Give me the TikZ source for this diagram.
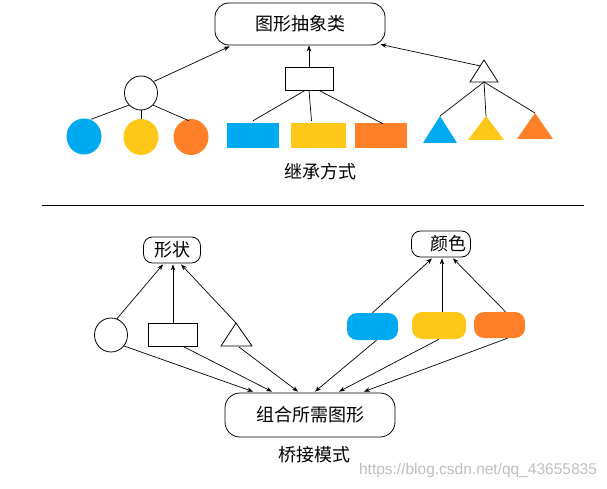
\documentclass[tikz,border=0pt]{standalone}
\usepackage{fontspec}
\setmainfont{Liberation Sans}
\newfontfamily\cjk{Noto Sans CJK SC}
\usetikzlibrary{arrows.meta,calc,shapes.geometric}
\definecolor{cblue}{RGB}{0,170,240}
\definecolor{cyellow}{RGB}{255,200,25}
\definecolor{corange}{RGB}{255,128,40}
\begin{document}
\begin{tikzpicture}[x=1pt,y=-1pt,
  lbl/.style={font=\cjk\fontsize{18}{18}\selectfont, inner sep=0pt},
  rbox/.style={draw, line width=0.8pt, inner sep=0pt, font=\cjk\fontsize{18}{18}\selectfont},
  obj/.style={draw, line width=0.8pt, inner sep=0pt},
  cobj/.style={inner sep=0pt},
  con/.style={line width=0.7pt},
  arr/.style={con, -{Stealth[length=6pt,width=4.5pt]}}]
\useasboundingbox (0,0) rectangle (607,489);
\fill[white] (0,0) rectangle (607,489);

% ---------- top: inheritance ----------
\node[rbox, rounded corners=14pt, minimum width=170pt, minimum height=42pt] (top) at (300,24) {图形抽象类};

\node[obj, ellipse, minimum width=33pt, minimum height=34pt] (oc) at (141,93) {};
\node[obj, rectangle, minimum width=48pt, minimum height=23pt] (orr) at (309,78.5) {};
\coordinate (ta) at (484,60);
\coordinate (tl) at (470,82);
\coordinate (tr) at (498,82);
\coordinate (tb) at (484,82);
\draw[line width=0.8pt] (ta) -- (tl) -- (tr) -- cycle;

\node[cobj, ellipse, fill=cblue, minimum width=35pt, minimum height=36pt] (c1) at (84,136.5) {};
\node[cobj, ellipse, fill=cyellow, minimum width=35pt, minimum height=36pt] (c2) at (141,137) {};
\node[cobj, ellipse, fill=corange, minimum width=35pt, minimum height=36pt] (c3) at (191,137) {};

\node[cobj, rectangle, fill=cblue, minimum width=52pt, minimum height=25pt] (r1) at (253,135.5) {};
\node[cobj, rectangle, fill=cyellow, minimum width=55pt, minimum height=25pt] (r2) at (318.5,135.5) {};
\node[cobj, rectangle, fill=corange, minimum width=52pt, minimum height=25pt] (r3) at (381,135.5) {};

\coordinate (t1) at (440,116);
\coordinate (t2) at (486,116);
\coordinate (t3) at (535,113);
\fill[cblue] (t1) -- (423,143) -- (457,143) -- cycle;
\fill[cyellow] (t2) -- (468,140) -- (504,140) -- cycle;
\fill[corange] (t3) -- (517,139) -- (553,139) -- cycle;

\draw[con] (oc.225) -- ($(c1.north)+(7,1)$);
\draw[con] (oc.south) -- (c2.north);
\draw[con] (oc.-45) -- ($(c3.north)+(-2,2)$);
\draw[con] ($(orr.south)+(-4,0)$) -- ($(r1.north)+(0,-2)$);
\draw[con] (orr.south) -- ($(r2.north)+(-7,-2)$);
\draw[con] ($(orr.south)+(10,0)$) -- ($(r3.north)+(2,1)$);
\draw[con] (tb) -- (t1);
\draw[con] (tb) -- (t2);
\draw[con] (tb) -- (t3);

\draw[arr] (oc.42) -- ($(top.south west)+(15,1)$);
\draw[arr] (orr.north) -- (orr.north |- top.south);
\draw[arr] ($(ta)!0.27!(tl)$) -- ($(top.south east)+(-5,-1)$);

\node[lbl] (lab1) at (320,172) {继承方式};

% separator
\coordinate (s1) at (42,205);
\coordinate (s2) at (584,205);
\draw[line width=0.8pt] (s1) -- (s2);

% ---------- bottom: bridge ----------
\node[rbox, rounded corners=9pt, minimum width=57pt, minimum height=26pt] (shape) at (172,250) {形状};
\node[rbox, rounded corners=9pt, minimum width=59pt, minimum height=26pt] (color) at (441,244) {\hspace*{14pt}颜色};
\node[rbox, rounded corners=15pt, minimum width=170pt, minimum height=44pt] (comb) at (310,415) {组合所需图形};
\node[lbl] (lab2) at (314,455) {桥接模式};

\node[obj, ellipse, minimum width=33pt, minimum height=34pt] (bc) at (111,335) {};
\node[obj, rectangle, minimum width=49pt, minimum height=23pt] (br) at (173,334.5) {};
\coordinate (ba) at (236,323);
\draw[line width=0.8pt] (ba) -- (221,346) -- (252,346) -- cycle;

\node[cobj, rectangle, rounded corners=10pt, fill=cblue, minimum width=51pt, minimum height=27pt] (k1) at (372.5,326.5) {};
\node[cobj, rectangle, rounded corners=10pt, fill=cyellow, minimum width=54pt, minimum height=27pt] (k2) at (439,325.5) {};
\node[cobj, rectangle, rounded corners=10pt, fill=corange, minimum width=51pt, minimum height=26pt] (k3) at (499.5,325) {};

\draw[arr] (bc.70) -- ($(shape.south)+(-9,1)$);
\draw[arr] (br.north) -- ($(shape.south)+(1,1)$);
\draw[arr] (ba) -- ($(shape.south)+(9,1)$);

\draw[arr] (k1.north) -- ($(color.south)+(-9,1)$);
\draw[arr] ($(k2.north)+(3,0)$) -- ($(color.south)+(1,1)$);
\draw[arr] ($(k3.north)+(6,0)$) -- ($(color.south)+(12,1)$);

\draw[arr] (bc.-40) -- ($(comb.north)+(-57,-1)$);
\draw[arr] ($(br.south)+(10,0)$) -- ($(comb.north)+(-38,-1)$);
\draw[arr] ($(ba)+(3,24)$) -- ($(comb.north)+(-12,-1)$);
\draw[arr] ($(k1.south)+(4,0)$) -- ($(comb.north)+(5,-1)$);
\draw[arr] (k2.south) -- ($(comb.north)+(29,-1)$);
\draw[arr] ($(k3.south)+(8,0)$) -- ($(comb.north)+(54,-1)$);

\node[font=\fontsize{15.5}{16}\selectfont, text=black!25, inner sep=0pt] (wm) at (478,470) {https://blog.csdn.net/qq\_43655835};
\end{tikzpicture}
\end{document}
